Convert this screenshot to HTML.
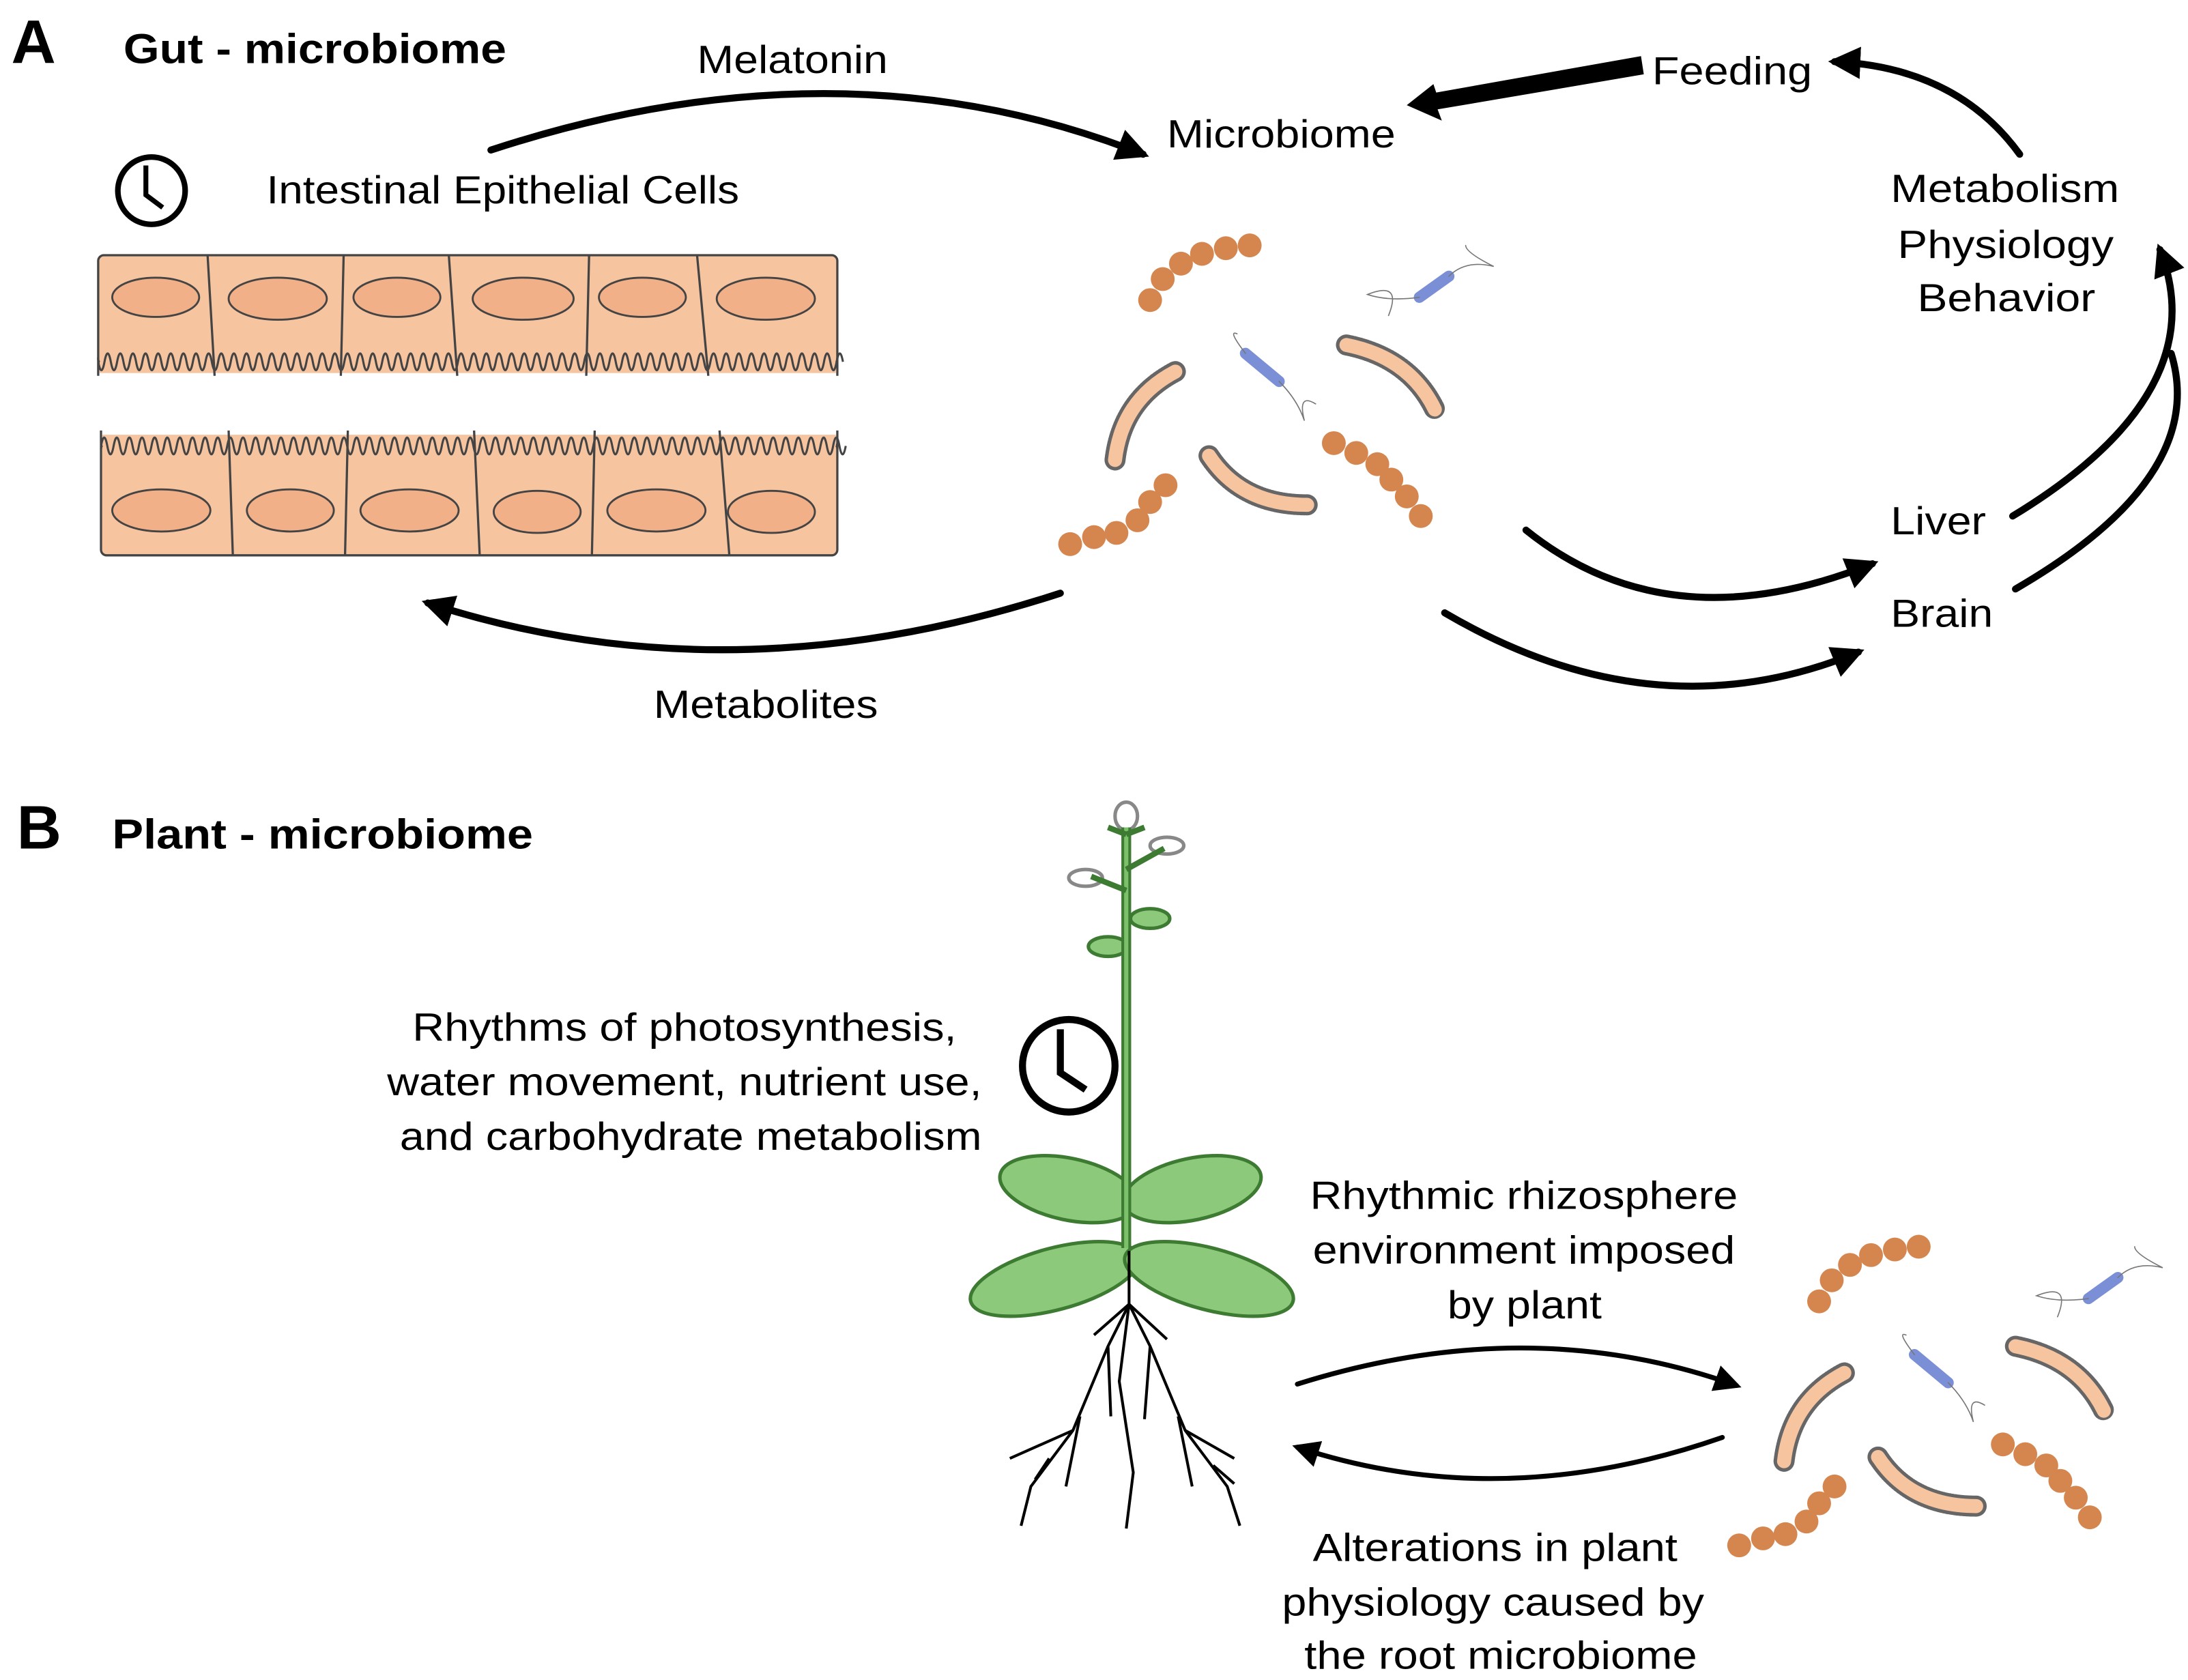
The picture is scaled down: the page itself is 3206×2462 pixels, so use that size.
<!DOCTYPE html>
<html><head><meta charset="utf-8"><style>
html,body{margin:0;padding:0;background:#fff;}
svg{display:block}
text{font-family:"Liberation Sans",Arial,Helvetica,sans-serif;fill:#000}
</style></head><body>
<svg width="3206" height="2462" viewBox="0 0 1560 1198" xmlns="http://www.w3.org/2000/svg" font-family="Liberation Sans, Arial, sans-serif">
<defs>
<marker id="ah2" viewBox="0 0 10 10" refX="8" refY="5" markerWidth="4.6" markerHeight="4.6" orient="auto" markerUnits="strokeWidth">
<path d="M0,0 L10,5 L0,10 z" fill="#000"/></marker>
<marker id="ah3" viewBox="0 0 10 10" refX="8" refY="5" markerWidth="5.5" markerHeight="5.5" orient="auto" markerUnits="strokeWidth">
<path d="M0,0 L10,5 L0,10 z" fill="#000"/></marker>
<path id="vill" d="M0,0 q2.25,12 4.5,0 t4.5,0 t4.5,0 t4.5,0 t4.5,0 t4.5,0 t4.5,0 t4.5,0 t4.5,0 t4.5,0 t4.5,0 t4.5,0 t4.5,0 t4.5,0 t4.5,0 t4.5,0 t4.5,0 t4.5,0 t4.5,0 t4.5,0 t4.5,0 t4.5,0 t4.5,0 t4.5,0 t4.5,0 t4.5,0 t4.5,0 t4.5,0 t4.5,0 t4.5,0 t4.5,0 t4.5,0 t4.5,0 t4.5,0 t4.5,0 t4.5,0 t4.5,0 t4.5,0 t4.5,0 t4.5,0 t4.5,0 t4.5,0 t4.5,0 t4.5,0 t4.5,0 t4.5,0 t4.5,0 t4.5,0 t4.5,0 t4.5,0 t4.5,0 t4.5,0 t4.5,0 t4.5,0 t4.5,0 t4.5,0 t4.5,0 t4.5,0 t4.5,0 t4.5,0 t4.5,0 t4.5,0 t4.5,0 t4.5,0 t4.5,0 t4.5,0 t4.5,0 t4.5,0 t4.5,0 t4.5,0 t4.5,0 t4.5,0 t4.5,0 t4.5,0 t4.5,0 t4.5,0 t4.5,0 t4.5,0 t4.5,0 t4.5,0 t4.5,0 t4.5,0 t4.5,0 t4.5,0 t4.5,0 t4.5,0 t4.5,0 t4.5,0 t4.5,0 t4.5,0 t4.5,0 t4.5,0 t4.5,0 t4.5,0 t4.5,0 t4.5,0 t4.5,0 t4.5,0 t4.5,0 t4.5,0 t4.5,0 t4.5,0 t4.5,0 t4.5,0 t4.5,0 t4.5,0 t4.5,0 t4.5,0 t4.5,0 t4.5,0 t4.5,0 t4.5,0 t4.5,0 t4.5,0 t4.5,0 t4.5,0 t4.5,0 t4.5,0" fill="none" stroke="#444" stroke-width="1.5"/>
<g id="cluster">
 <g fill="#d5864f">
  <circle cx="820" cy="214" r="8.5"/><circle cx="829" cy="199" r="8.5"/><circle cx="842" cy="188" r="8.5"/><circle cx="857" cy="181" r="8.5"/><circle cx="874" cy="177" r="8.5"/><circle cx="891" cy="175" r="8.5"/>
  <circle cx="763" cy="388" r="8.5"/><circle cx="780" cy="383" r="8.5"/><circle cx="796" cy="380" r="8.5"/><circle cx="811" cy="371" r="8.5"/><circle cx="820" cy="358" r="8.5"/><circle cx="831" cy="346" r="8.5"/>
  <circle cx="951" cy="316" r="8.5"/><circle cx="967" cy="323" r="8.5"/><circle cx="982" cy="331" r="8.5"/><circle cx="992" cy="342" r="8.5"/><circle cx="1003" cy="354" r="8.5"/><circle cx="1013" cy="368" r="8.5"/>
 </g>
 <g fill="none" stroke-linecap="round">
  <path d="M795,328 Q800,285 838,265" stroke="#666" stroke-width="15" stroke-dasharray="1 1.2"/>
  <path d="M795,328 Q800,285 838,265" stroke="#f7c4a0" stroke-width="10"/>
  <path d="M960,246 Q1005,255 1023,292" stroke="#666" stroke-width="15" stroke-dasharray="1 1.2"/>
  <path d="M960,246 Q1005,255 1023,292" stroke="#f7c4a0" stroke-width="10"/>
  <path d="M862,325 Q885,360 932,360" stroke="#666" stroke-width="15" stroke-dasharray="1 1.2"/>
  <path d="M862,325 Q885,360 932,360" stroke="#f7c4a0" stroke-width="10"/>
  <path d="M888,252 L912,272" stroke="#7b8fd6" stroke-width="8"/>
  <path d="M1012,212 L1033,197" stroke="#7b8fd6" stroke-width="8"/>
  <path d="M888,252 Q875,235 882,238 M912,272 Q925,285 930,300 Q925,280 938,288" stroke="#777" stroke-width="0.8"/>
  <path d="M1012,212 Q990,215 975,210 Q1000,200 990,225 M1033,197 Q1045,185 1065,190 Q1045,180 1045,175" stroke="#777" stroke-width="0.8"/>
 </g>
</g>
</defs>

<!-- Labels A -->
<text x="8" y="45" font-size="44" font-weight="bold">A</text>
<text x="88" y="45" font-size="30" font-weight="bold" textLength="273" lengthAdjust="spacingAndGlyphs">Gut - microbiome</text>
<g font-size="28">
<text x="497" y="52" textLength="136" lengthAdjust="spacingAndGlyphs">Melatonin</text>
<text x="832" y="105" textLength="163" lengthAdjust="spacingAndGlyphs">Microbiome</text>
<text x="1178" y="60" textLength="114" lengthAdjust="spacingAndGlyphs">Feeding</text>
<text x="190" y="145" textLength="337" lengthAdjust="spacingAndGlyphs">Intestinal Epithelial Cells</text>
<text x="1348" y="144" textLength="163" lengthAdjust="spacingAndGlyphs">Metabolism</text>
<text x="1353" y="184" textLength="154" lengthAdjust="spacingAndGlyphs">Physiology</text>
<text x="1367" y="222" textLength="127" lengthAdjust="spacingAndGlyphs">Behavior</text>
<text x="1348" y="381" textLength="68" lengthAdjust="spacingAndGlyphs">Liver</text>
<text x="1348" y="447" textLength="73" lengthAdjust="spacingAndGlyphs">Brain</text>
<text x="466" y="512" textLength="160" lengthAdjust="spacingAndGlyphs">Metabolites</text>
</g>

<!-- clock A -->
<circle cx="108" cy="136" r="24" fill="none" stroke="#000" stroke-width="4"/>
<path d="M104,118 L104,139 L116,148" fill="none" stroke="#000" stroke-width="3.5"/>

<!-- cells -->
<g stroke="#444" stroke-width="1.6" fill="#f7c4a0">
 <rect x="70" y="182" width="527" height="78" rx="4"/>
 <rect x="72" y="316" width="525" height="80" rx="4"/>
</g>
<rect x="71" y="258" width="525" height="8" fill="#f7c4a0"/>
<rect x="73" y="310" width="523" height="8" fill="#f7c4a0"/>
<use href="#vill" transform="translate(70,258)"/>
<use href="#vill" transform="translate(72,318) scale(1,-1)"/>
<g stroke="#444" stroke-width="1.6" fill="none">
 <path d="M148,182 L153,268 M245,182 L243,268 M320,182 L326,268 M420,182 L418,268 M497,182 L505,268"/>
 <path d="M163,307 L166,396 M248,307 L246,396 M338,307 L342,396 M424,307 L422,396 M513,307 L520,396"/>
 <path d="M70,255 L70,268 M597,255 L597,268 M72,307 L72,320 M597,307 L597,320"/>
</g>
<g stroke="#444" stroke-width="1.4" fill="#f2b088">
 <ellipse cx="111" cy="212" rx="31" ry="14"/><ellipse cx="198" cy="213" rx="35" ry="15"/><ellipse cx="283" cy="212" rx="31" ry="14"/><ellipse cx="373" cy="213" rx="36" ry="15"/><ellipse cx="458" cy="212" rx="31" ry="14"/><ellipse cx="546" cy="213" rx="35" ry="15"/>
 <ellipse cx="115" cy="364" rx="35" ry="15"/><ellipse cx="207" cy="364" rx="31" ry="15"/><ellipse cx="292" cy="364" rx="35" ry="15"/><ellipse cx="383" cy="365" rx="31" ry="15"/><ellipse cx="468" cy="364" rx="35" ry="15"/><ellipse cx="550" cy="365" rx="31" ry="15"/>
</g>

<use href="#cluster"/>
<use href="#cluster" transform="translate(477,714)"/>

<!-- Arrows A -->
<g fill="none" stroke="#000" stroke-width="5" stroke-linecap="round">
 <path d="M350,107 Q600,25 815,110" marker-end="url(#ah2)"/>
 <path d="M756,423 Q520,500 305,430" marker-end="url(#ah2)"/>
 <path d="M1440,110 Q1395,48 1308,44" marker-end="url(#ah2)"/>
 <path d="M1088,378 Q1190,460 1335,402" marker-end="url(#ah2)"/>
 <path d="M1030,437 Q1180,525 1325,465" marker-end="url(#ah2)"/>
 <path d="M1435,368 Q1580,280 1540,178" marker-end="url(#ah2)"/>
 <path d="M1437,420 Q1575,340 1548,252"/>
</g>
<polygon points="1170,40 1172,53 1025,78 1028,86 1003,75 1022,60 1024,66" fill="#000"/>

<!-- Labels B -->
<text x="12" y="605" font-size="44" font-weight="bold">B</text>
<text x="80" y="605" font-size="30" font-weight="bold" textLength="300" lengthAdjust="spacingAndGlyphs">Plant - microbiome</text>
<g font-size="28">
 <text x="294" y="742" textLength="388" lengthAdjust="spacingAndGlyphs">Rhythms of photosynthesis,</text>
 <text x="276" y="781" textLength="424" lengthAdjust="spacingAndGlyphs">water movement, nutrient use,</text>
 <text x="285" y="820" textLength="415" lengthAdjust="spacingAndGlyphs">and carbohydrate metabolism</text>
 <text x="934" y="862" textLength="305" lengthAdjust="spacingAndGlyphs">Rhythmic rhizosphere</text>
 <text x="936" y="901" textLength="301" lengthAdjust="spacingAndGlyphs">environment imposed</text>
 <text x="1032" y="940" textLength="110" lengthAdjust="spacingAndGlyphs">by plant</text>
 <text x="936" y="1113" textLength="260" lengthAdjust="spacingAndGlyphs">Alterations in plant</text>
 <text x="914" y="1152" textLength="301" lengthAdjust="spacingAndGlyphs">physiology caused by</text>
 <text x="930" y="1190" textLength="280" lengthAdjust="spacingAndGlyphs">the root microbiome</text>
</g>

<!-- clock B -->
<circle cx="762" cy="760" r="33" fill="none" stroke="#000" stroke-width="5"/>
<path d="M756,734 L756,765 L774,777" fill="none" stroke="#000" stroke-width="5"/>

<!-- plant -->
<g stroke="#3d7a32" stroke-width="2.5" fill="#8cc97a">
 <ellipse cx="762" cy="848" rx="50" ry="22" transform="rotate(12 762 848)"/>
 <ellipse cx="850" cy="848" rx="50" ry="22" transform="rotate(-12 850 848)"/>
 <ellipse cx="752" cy="912" rx="62" ry="22" transform="rotate(-15 752 912)"/>
 <ellipse cx="862" cy="912" rx="62" ry="22" transform="rotate(15 862 912)"/>
 <ellipse cx="790" cy="675" rx="14" ry="7"/>
 <ellipse cx="820" cy="655" rx="14" ry="7"/>
</g>
<g fill="none" stroke="#888" stroke-width="2.5">
 <ellipse cx="803" cy="582" rx="8" ry="10"/>
 <ellipse cx="832" cy="603" rx="12" ry="6"/>
 <ellipse cx="774" cy="626" rx="12" ry="6"/>
</g>
<path d="M803,590 L803,890" stroke="#3d7a32" stroke-width="7"/>
<path d="M803,590 L803,890" stroke="#7cc06a" stroke-width="3"/>
<g stroke="#3d7a32" stroke-width="4" fill="none">
 <path d="M803,620 L830,605 M803,635 L778,625 M803,595 L790,590 M803,595 L816,590"/>
</g>
<g stroke="#000" stroke-width="2" fill="none">
 <path d="M805,892 L805,930 L790,960 L765,1020 L735,1060 L728,1088"/>
 <path d="M805,930 L820,960 L845,1020 L875,1060 L884,1088"/>
 <path d="M805,930 L798,985 L808,1050 L803,1090"/>
 <path d="M805,930 L780,952 M805,930 L832,955"/>
 <path d="M790,960 L792,1010 M820,960 L816,1012"/>
 <path d="M765,1020 L720,1040 M845,1020 L880,1040"/>
 <path d="M770,1010 L760,1060 M840,1010 L850,1060"/>
 <path d="M748,1040 L738,1055 M865,1045 L880,1058"/>
</g>

<!-- Arrows B -->
<g fill="none" stroke="#000" stroke-width="3.5" stroke-linecap="round">
 <path d="M925,987 Q1090,935 1238,988" marker-end="url(#ah3)"/>
 <path d="M1228,1025 Q1070,1080 925,1032" marker-end="url(#ah3)"/>
</g>
</svg>
</body></html>
